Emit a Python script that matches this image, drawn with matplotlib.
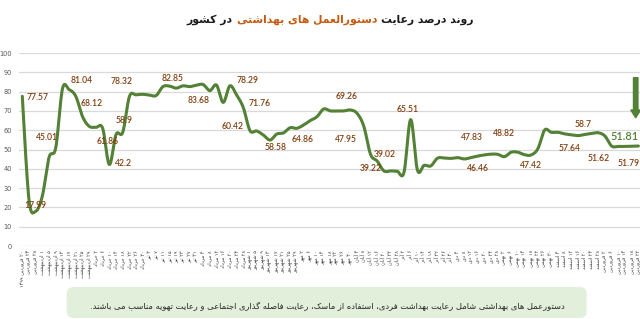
import re
import numpy as np
import matplotlib
matplotlib.use('Agg')
import matplotlib.pyplot as plt
from matplotlib.offsetbox import TextArea, HPacker, AnchoredOffsetbox
from matplotlib.patches import FancyBboxPatch

# داده ها (خوانده شده از تصویر)
dates = [
    "20 فروردین 1399", "24 فروردین", "28 فروردین",
    "1 اردیبهشت", "5 اردیبهشت", "9 اردیبهشت", "13 اردیبهشت", "17 اردیبهشت", "21 اردیبهشت", "25 اردیبهشت", "29 اردیبهشت",
    "2 خرداد", "6 خرداد", "10 خرداد", "14 خرداد", "18 خرداد", "22 خرداد", "26 خرداد", "30 خرداد",
    "3 تیر", "7 تیر", "11 تیر", "15 تیر", "19 تیر", "23 تیر", "27 تیر", "31 تیر",
    "4 مرداد", "8 مرداد", "12 مرداد", "16 مرداد", "20 مرداد", "24 مرداد", "28 مرداد",
    "1 شهریور", "5 شهریور", "9 شهریور", "13 شهریور", "17 شهریور", "21 شهریور", "25 شهریور", "29 شهریور",
    "2 مهر", "6 مهر", "10 مهر", "14 مهر", "18 مهر", "22 مهر", "26 مهر", "30 مهر",
    "4 آبان", "8 آبان", "12 آبان", "16 آبان", "20 آبان", "24 آبان", "28 آبان",
    "2 آذر", "6 آذر", "10 آذر", "14 آذر", "18 آذر", "22 آذر", "26 آذر", "30 آذر",
    "4 دی", "8 دی", "12 دی", "16 دی", "20 دی", "24 دی", "28 دی",
    "2 بهمن", "6 بهمن", "10 بهمن", "14 بهمن", "18 بهمن", "22 بهمن", "26 بهمن", "30 بهمن",
    "4 اسفند", "8 اسفند", "12 اسفند", "16 اسفند", "20 اسفند", "24 اسفند", "28 اسفند",
    "2 فروردین", "6 فروردین", "10 فروردین", "14 فروردین", "18 فروردین", "22 فروردین",
]

values = [77.57, 24, 17.99, 26, 46, 51, 81.5, 81.04, 77.5, 67,
          62, 61.5, 61, 42.2, 57.8, 58.9, 77.5, 78.32, 78.6, 78.2,
          78.0, 82.6, 82.85, 81.8, 83, 82.6, 83.3, 83.68, 80.5, 83.4,
          74.4, 83, 78.29, 71.76, 59.8, 59.6, 57.5, 54.9, 58, 58.6,
          61.3, 61, 62.7, 65, 67, 71, 70, 70, 70, 70.5,
          68.7, 62, 47.5, 44, 38.9, 38.9, 38.7, 38.2, 65.51, 39.4,
          41.8, 41.5, 45.5, 45.6, 45.4, 45.8, 45.1, 45.8, 46.6, 47.2,
          47.6, 47.5, 46.3, 48.6, 48.6, 47.3, 47.2, 50.5, 60.1, 58.9,
          58.9, 58.1, 57.6, 57.2, 57.8, 58.3, 58.7, 57, 51.8, 51.6,
          51.6, 51.7, 51.81]

# برچسب های عددی روی نمودار و جای آنها (شماره نقطه، مقدار محور y)
label_text = ["77.57", "17.99", "45.01", "81.04", "68.12", "61.86", "42.2", "58.9", "78.32",
              "82.85", "83.68", "78.29", "71.76", "60.42", "58.58", "64.86", "69.26", "47.95",
              "39.02", "39.22", "65.51", "47.83", "48.82", "46.46", "47.42", "57.64", "58.7",
              "51.62", "51.79"]
label_pos = [(2.35, 77.2), (1.9, 21.2), (3.7, 56.0), (8.9, 86.0), (10.4, 73.6), (12.7, 53.9),
             (15.05, 42.5), (15.2, 64.8), (14.75, 85.0), (22.5, 87.0), (26.4, 75.6), (33.6, 86.0),
             (35.5, 74.1), (31.35, 61.7), (37.9, 51.3), (41.8, 55.4), (48.4, 77.7), (48.4, 55.4),
             (54.1, 47.2), (52.0, 40.4), (57.5, 70.5), (67.2, 56.0), (71.85, 58.5), (68.1, 40.4),
             (76.0, 41.5), (81.7, 50.3), (83.7, 63.2), (86.05, 45.1), (90.5, 43.0)]
last_text = "51.81"
last_pos = (89.95, 56.5)

title_parts = ["روند درصد رعایت", "دستورالعمل های بهداشتی", "در کشور"]
note = "دستورعمل های بهداشتی شامل رعایت بهداشت فردی، استفاده از ماسک، رعایت فاصله گذاری اجتماعی و رعایت تهویه مناسب می باشند."

green = '#538135'
brown = '#843C0C'

# شکل دادن حروف فارسی (matplotlib خودش حروف را به هم نمی چسباند)
FORMS = {
    'ا': '\uFE8D\uFE8E', 'آ': '\uFE81\uFE82', 'د': '\uFEA9\uFEAA', 'ذ': '\uFEAB\uFEAC',
    'ر': '\uFEAD\uFEAE', 'ز': '\uFEAF\uFEB0', 'ژ': '\uFB8A\uFB8B', 'و': '\uFEED\uFEEE',
    'ب': '\uFE8F\uFE90\uFE91\uFE92', 'پ': '\uFB56\uFB57\uFB58\uFB59', 'ت': '\uFE95\uFE96\uFE97\uFE98',
    'ث': '\uFE99\uFE9A\uFE9B\uFE9C', 'ج': '\uFE9D\uFE9E\uFE9F\uFEA0', 'چ': '\uFB7A\uFB7B\uFB7C\uFB7D',
    'ح': '\uFEA1\uFEA2\uFEA3\uFEA4', 'خ': '\uFEA5\uFEA6\uFEA7\uFEA8', 'س': '\uFEB1\uFEB2\uFEB3\uFEB4',
    'ش': '\uFEB5\uFEB6\uFEB7\uFEB8', 'ص': '\uFEB9\uFEBA\uFEBB\uFEBC', 'ض': '\uFEBD\uFEBE\uFEBF\uFEC0',
    'ط': '\uFEC1\uFEC2\uFEC3\uFEC4', 'ظ': '\uFEC5\uFEC6\uFEC7\uFEC8', 'ع': '\uFEC9\uFECA\uFECB\uFECC',
    'غ': '\uFECD\uFECE\uFECF\uFED0', 'ف': '\uFED1\uFED2\uFED3\uFED4', 'ق': '\uFED5\uFED6\uFED7\uFED8',
    'ک': '\uFB8E\uFB8F\uFB90\uFB91', 'گ': '\uFB92\uFB93\uFB94\uFB95', 'ل': '\uFEDD\uFEDE\uFEDF\uFEE0',
    'م': '\uFEE1\uFEE2\uFEE3\uFEE4', 'ن': '\uFEE5\uFEE6\uFEE7\uFEE8', 'ه': '\uFEE9\uFEEA\uFEEB\uFEEC',
    'ی': '\uFBFC\uFBFD\uFBFE\uFBFF',
}
FORMS['\u064A'] = FORMS['ی']
FORMS['\u0643'] = FORMS['ک']
fa_digits = str.maketrans('0123456789', '۰۱۲۳۴۵۶۷۸۹')


def fa(s):
    out = []
    for i, c in enumerate(s):
        if c not in FORMS:
            out.append(c)
            continue
        prev = s[i - 1] if i > 0 else ''
        nxt = s[i + 1] if i + 1 < len(s) else ''
        jp = prev in FORMS and len(FORMS[prev]) == 4
        jn = nxt in FORMS and len(FORMS[c]) == 4
        f = FORMS[c]
        if jp and jn:
            out.append(f[3])
        elif jp:
            out.append(f[1])
        elif jn:
            out.append(f[2])
        else:
            out.append(f[0])
    vis = ''.join(out)[::-1]
    # اعداد چپ به راست می مانند
    vis = re.sub(r'[0-9۰-۹.]+', lambda m: m.group(0)[::-1], vis)
    return vis


def catmull(x, y, k=12):
    p = np.column_stack([x, y]).astype(float)
    p = np.vstack([p[0], p, p[-1]])
    t = np.linspace(0, 1, k, endpoint=False)[:, None]
    pts = []
    for i in range(1, len(p) - 2):
        p0, p1, p2, p3 = p[i - 1], p[i], p[i + 1], p[i + 2]
        seg = 0.5 * (2 * p1 + (-p0 + p2) * t + (2 * p0 - 5 * p1 + 4 * p2 - p3) * t ** 2
                     + (-p0 + 3 * p1 - 3 * p2 + p3) * t ** 3)
        pts.append(seg)
    pts.append(p[-2][None, :])
    pts = np.vstack(pts)
    return pts[:, 0], pts[:, 1]


fig = plt.figure(figsize=(6.4, 3.19), dpi=100)
ax = fig.add_axes([0.0296, 0.2288, 0.9704, 0.605])

xi = np.arange(len(values))
sx, sy = catmull(xi, values)
ax.plot(sx, sy, color=green, lw=2.2, solid_capstyle='round', zorder=3)

ax.set_xlim(-0.5, 92.24)
ax.set_ylim(0, 100)
ax.set_yticks(range(0, 101, 10))
ax.grid(axis='y', color='#D9D9D9', lw=0.9)
ax.set_axisbelow(True)
for sp in ax.spines.values():
    sp.set_visible(False)
ax.tick_params(axis='y', length=0, labelsize=4.8, labelcolor='#595959', pad=5)
ax.set_xticks(xi)
ax.set_xticklabels([fa(d.translate(fa_digits)) for d in dates], rotation=90,
                   fontsize=3.6, color='#404040', family='DejaVu Sans')
ax.tick_params(axis='x', length=0, pad=3)

for t, (px, py) in zip(label_text, label_pos):
    ax.text(px, py, t, ha='center', va='center', color=brown, fontsize=6.2,
            family='Lato', fontweight='semibold')
ax.text(last_pos[0], last_pos[1], last_text, ha='center', va='center', color=green,
        fontsize=7.8, family='Lato', fontweight='semibold')

ax.annotate('', xy=(91.6, 66.5), xytext=(91.6, 87.2),
            arrowprops=dict(arrowstyle='simple,head_length=0.55,head_width=0.7,tail_width=0.32',
                            color=green, mutation_scale=10, shrinkA=0, shrinkB=0))

# عنوان
tp = dict(fontsize=7.8, fontweight='bold', family='DejaVu Sans')
parts = [TextArea(fa(title_parts[2]), textprops=dict(color='#1a1a1a', **tp)),
         TextArea(fa(title_parts[1]), textprops=dict(color='#C55A11', **tp)),
         TextArea(fa(title_parts[0]), textprops=dict(color='#1a1a1a', **tp))]
box = HPacker(children=parts, pad=0, sep=3, align='center')
ab = AnchoredOffsetbox(loc='center', child=box, frameon=False, pad=0, borderpad=0,
                       bbox_to_anchor=(330 / 640, 1 - 20 / 319), bbox_transform=fig.transFigure)
fig.add_artist(ab)

# کادر توضیح
fig.patches.append(FancyBboxPatch((0.667, 0.01), 5.2, 0.31,
                                  boxstyle='round,pad=0,rounding_size=0.07',
                                  transform=fig.dpi_scale_trans, facecolor='#E2EFDA',
                                  edgecolor='none', figure=fig))
fig.text(327 / 640, 1 - 306.5 / 319, fa(note), ha='center', va='center', fontsize=6,
         color='#262626', family='DejaVu Sans')

fig.savefig('out.png', dpi=100)
